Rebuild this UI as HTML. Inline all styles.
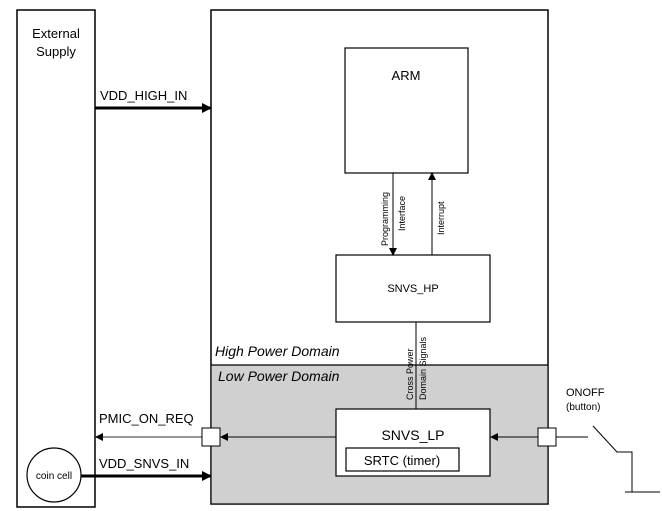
<!DOCTYPE html>
<html><head><style>
body{margin:0;background:#fff}
svg{display:block;font-family:"Liberation Sans",sans-serif}
</style></head><body>
<svg width="662" height="511" viewBox="0 0 662 511">
<defs>
<marker id="a" markerWidth="8" markerHeight="8" refX="7" refY="4" orient="auto" markerUnits="userSpaceOnUse"><path d="M0,0L8,4L0,8z" fill="#000"/></marker>
<marker id="g" markerWidth="10" markerHeight="10" refX="9" refY="5" orient="auto" markerUnits="userSpaceOnUse"><path d="M0,0L10,5L0,10z" fill="#000"/></marker>
</defs>
<rect x="17" y="10" width="78" height="497" fill="#fff" stroke="#000" stroke-width="1.5"/>
<text x="56" y="38" font-size="13" text-anchor="middle">External</text>
<text x="56" y="56" font-size="13" text-anchor="middle">Supply</text>
<rect x="211" y="10" width="337" height="494" fill="#fff" stroke="#000" stroke-width="1.5"/>
<rect x="211.75" y="365" width="335.5" height="138.25" fill="#d0d0d0"/>
<line x1="211" y1="365" x2="548" y2="365" stroke="#000" stroke-width="1.2"/>
<text x="215" y="356" font-size="14" font-style="italic">High Power Domain</text>
<text x="218" y="381" font-size="14" font-style="italic">Low Power Domain</text>
<rect x="345" y="48" width="123" height="125" fill="#fff" stroke="#000" stroke-width="1.2"/>
<text x="406" y="80" font-size="13" text-anchor="middle">ARM</text>
<rect x="336" y="255" width="154" height="67" fill="#fff" stroke="#000" stroke-width="1.2"/>
<text x="413" y="292" font-size="11" text-anchor="middle">SNVS_HP</text>
<line x1="393" y1="173" x2="393" y2="255" stroke="#000" marker-end="url(#a)"/>
<line x1="432" y1="255" x2="432" y2="173" stroke="#000" marker-end="url(#a)"/>
<text transform="translate(388,246) rotate(-90)" font-size="9">Programming</text>
<text transform="translate(405,231) rotate(-90)" font-size="9">Interface</text>
<text transform="translate(444,235) rotate(-90)" font-size="9">Interrupt</text>
<line x1="416" y1="322" x2="416" y2="409" stroke="#000"/>
<text transform="translate(413,400) rotate(-90)" font-size="9">Cross Power</text>
<text transform="translate(426,400) rotate(-90)" font-size="9">Domain Signals</text>
<rect x="336" y="409" width="154" height="67" fill="#fff" stroke="#000" stroke-width="1.2"/>
<text x="413" y="440" font-size="14" text-anchor="middle">SNVS_LP</text>
<rect x="346" y="448" width="113" height="23" fill="#fff" stroke="#000" stroke-width="1.2"/>
<text x="402" y="465" font-size="13" text-anchor="middle">SRTC (timer)</text>
<line x1="95" y1="108" x2="211" y2="108" stroke="#000" stroke-width="3" marker-end="url(#g)"/>
<text x="100" y="100" font-size="13">VDD_HIGH_IN</text>
<line x1="202" y1="437" x2="96" y2="437" stroke="#777" stroke-width="1.5" marker-end="url(#a)"/>
<text x="99" y="423" font-size="13">PMIC_ON_REQ</text>
<line x1="81" y1="476" x2="211" y2="476" stroke="#000" stroke-width="3" marker-end="url(#g)"/>
<text x="99" y="468" font-size="13">VDD_SNVS_IN</text>
<circle cx="54" cy="475" r="27" fill="#fff" stroke="#000" stroke-width="1.2"/>
<text x="54" y="479" font-size="10" text-anchor="middle">coin cell</text>
<line x1="336" y1="437" x2="221" y2="437" stroke="#000" marker-end="url(#a)"/>
<line x1="538" y1="437" x2="491" y2="437" stroke="#000" marker-end="url(#a)"/>
<rect x="202" y="428" width="18" height="18" fill="#fff" stroke="#000"/>
<rect x="538" y="428" width="18" height="18" fill="#fff" stroke="#000"/>
<line x1="556" y1="437" x2="588" y2="437" stroke="#000"/>
<polyline points="593,426 617,452 632,452 632,492" fill="none" stroke="#000"/>
<line x1="625" y1="492" x2="660" y2="492" stroke="#000"/>
<text x="566" y="396" font-size="11">ONOFF</text>
<text x="566" y="410" font-size="10">(button)</text>
</svg>
</body></html>
